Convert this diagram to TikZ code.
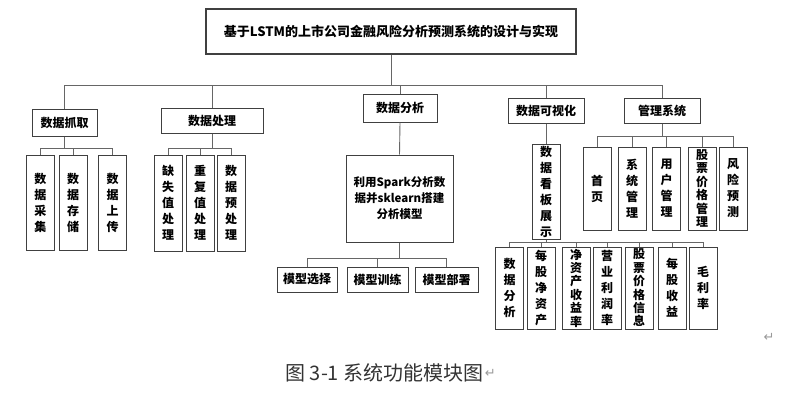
\documentclass[tikz,border=0pt]{standalone}
\usepackage{fontspec}
\newfontfamily\cjk{Noto Sans CJK SC}
\newfontfamily\symfont{DejaVu Sans}
\begin{document}
\begin{tikzpicture}[
    x=1pt, y=-1pt,
    font=\cjk\bfseries\fontsize{12}{16}\selectfont,
    box/.style={
        draw=black!75, fill=white, rectangle, line width=1pt,
        inner sep=0pt, align=center
    },
    vbox/.style={
        box, minimum width=28pt, text width=14pt
    },
    tight/.style={
        font=\cjk\bfseries\fontsize{12}{13.4}\selectfont
    },
    link/.style={draw=black!60, line width=0.9pt}
]
\useasboundingbox (0,0) rectangle (795,396);

\node[box, minimum width=370pt, minimum height=45pt, line width=1.2pt,
    font=\cjk\bfseries\fontsize{13}{16}\selectfont] (title) at (391,31.5)
    {基于LSTM的上市公司金融风险分析预测系统的设计与实现};

% first level
\node[box, minimum width=65pt, minimum height=27pt] (grab) at (64.5,122.5) {数据抓取};
\node[box, minimum width=102pt, minimum height=25pt] (proc) at (212,120.5) {数据处理};
\node[box, minimum width=74pt, minimum height=28pt] (anal) at (400,108) {数据分析};
\node[box, minimum width=76pt, minimum height=25pt] (vis) at (546,110.5) {数据可视化};
\node[box, minimum width=76pt, minimum height=25pt] (mgmt) at (662,110.5) {管理系统};

% data grabbing
\node[vbox, minimum height=95pt] (g1) at (40.5,202.5) {数\\据\\采\\集};
\node[vbox, minimum height=95pt] (g2) at (73,202.5) {数\\据\\存\\储};
\node[vbox, minimum height=95pt] (g3) at (112.5,202.5) {数\\据\\上\\传};

% data processing
\node[vbox, minimum height=96pt] (p1) at (168,203) {缺\\失\\值\\处\\理};
\node[vbox, minimum height=96pt] (p2) at (200,203) {重\\复\\值\\处\\理};
\node[vbox, minimum height=96pt] (p3) at (231,203) {数\\据\\预\\处\\理};

% data analysis
\node[box, minimum width=107pt, minimum height=87pt, text width=104pt,
    font=\cjk\bfseries\fontsize{11.5}{16}\selectfont] (amain) at (399.5,198.5)
    {利用Spark分析数\\据并sklearn搭建\\分析模型};
\node[box, minimum width=60pt, minimum height=25pt] (a1) at (307,279.5) {模型选择};
\node[box, minimum width=61pt, minimum height=25pt] (a2) at (377.5,279.5) {模型训练};
\node[box, minimum width=63pt, minimum height=25pt] (a3) at (446.5,279.5) {模型部署};

% visualisation
\node[vbox, minimum height=95pt] (board) at (546,191.5) {数\\据\\看\\板\\展\\示};
\node[vbox, minimum height=82pt] (v1) at (509.5,288) {数\\据\\分\\析};
\node[vbox, minimum height=82pt] (v2) at (541,288) {每\\股\\净\\资\\产};
\node[vbox, tight, minimum height=82pt] (v3) at (576,288) {净\\资\\产\\收\\益\\率};
\node[vbox, minimum height=82pt] (v4) at (607,288) {营\\业\\利\\润\\率};
\node[vbox, tight, minimum height=82pt] (v5) at (639,288) {股\\票\\价\\格\\信\\息};
\node[vbox, minimum height=82pt] (v6) at (672,288) {每\\股\\收\\益};
\node[vbox, minimum height=82pt] (v7) at (703,288) {毛\\利\\率};

% management
\node[vbox, minimum height=83pt] (m1) at (597,188.5) {首\\页};
\node[vbox, minimum height=83pt] (m2) at (632,188.5) {系\\统\\管\\理};
\node[vbox, minimum height=83pt] (m3) at (666.5,188.5) {用\\户\\管\\理};
\node[vbox, tight, minimum height=83pt] (m4) at (702,188.5) {股\\票\\价\\格\\管\\理};
\node[vbox, minimum height=83pt] (m5) at (733,188.5) {风\\险\\预\\测};

\node[font=\cjk\fontsize{20}{24}\selectfont, text=black!80, inner sep=0pt]
    (caption) at (384.5,373) {图 3-1 系统功能模块图};
\node[font=\symfont\fontsize{13}{16}\selectfont, text=black!40, inner sep=0pt,
    anchor=west] (capret) at ([xshift=1pt]caption.east) {↵};
\node[font=\symfont\fontsize{13}{16}\selectfont, text=black!40, inner sep=0pt]
    (pararet) at (769,337) {↵};

% connectors
\coordinate (topbus) at (391,85);
\draw[link] (title.south) -- (topbus);
\draw[link] (topbus) -| (grab.north);
\draw[link] (topbus) -| (proc.north);
\draw[link] (topbus) -| (anal.north);
\draw[link] (topbus) -| (vis.north);
\draw[link] (topbus) -| (mgmt.north);

\coordinate (grabbus) at ([yshift=-12pt]grab.south);
\draw[link] (grab.south) -- (grabbus);
\draw[link] (grabbus) -| (g1.north);
\draw[link] (grabbus) -| (g2.north);
\draw[link] (grabbus) -| (g3.north);

\coordinate (procbus) at ([yshift=-15pt]proc.south);
\draw[link] (proc.south) -- (procbus);
\draw[link] (procbus) -| (p1.north);
\draw[link] (procbus) -| (p2.north);
\draw[link] (procbus) -| (p3.north);

\draw[link] (anal.south) -- (amain.north);
\coordinate (analbus) at ([yshift=-16pt]amain.south);
\draw[link] (amain.south) -- (analbus);
\draw[link] (analbus) -| (a1.north);
\draw[link] (analbus) -| (a2.north);
\draw[link] (analbus) -| (a3.north);

\draw[link] (vis.south) -- (board.north);
\coordinate (visbus) at ([yshift=-3pt]board.south);
\draw[link] (board.south) -- (visbus);
\draw[link] (visbus) -| (v1.north);
\draw[link] (visbus) -| (v2.north);
\draw[link] (visbus) -| (v3.north);
\draw[link] (visbus) -| (v4.north);
\draw[link] (visbus) -| (v5.north);
\draw[link] (visbus) -| (v6.north);
\draw[link] (visbus) -| (v7.north);

\coordinate (mgmtbus) at ([yshift=-13pt]mgmt.south);
\draw[link] (mgmt.south) -- (mgmtbus);
\draw[link] (mgmtbus) -| (m1.north);
\draw[link] (mgmtbus) -| (m2.north);
\draw[link] (mgmtbus) -| (m3.north);
\draw[link] (mgmtbus) -| (m4.north);
\draw[link] (mgmtbus) -| (m5.north);
\end{tikzpicture}
\end{document}
